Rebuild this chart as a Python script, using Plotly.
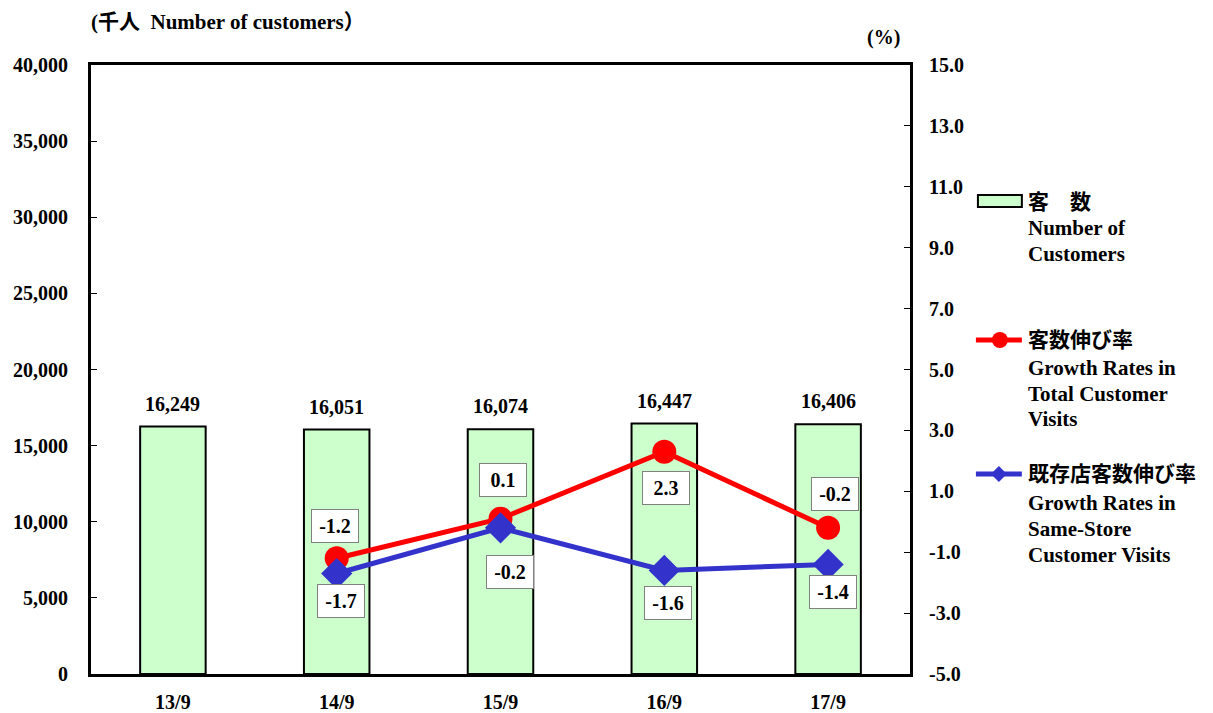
import plotly.graph_objects as go

categories = ["13/9", "14/9", "15/9", "16/9", "17/9"]
customers = [16249, 16051, 16074, 16447, 16406]
growth_total = [None, -1.2, 0.1, 2.3, -0.2]
growth_same = [None, -1.7, -0.2, -1.6, -1.4]
left_ticks = [0, 5000, 10000, 15000, 20000, 25000, 30000, 35000, 40000]
right_ticks = [-5, -3, -1, 1, 3, 5, 7, 9, 11, 13, 15]

FONT = "Liberation Serif, Noto Sans CJK JP, serif"
FS = 20
RED = "#FF0000"
BLUE = "#3333CC"
GREEN = "#CCFFCC"


def bfont(size=FS):
    return dict(family=FONT, size=size, color="black", weight="bold")


fig = go.Figure()
fig.add_trace(go.Bar(x=categories, y=customers, width=0.4,
                     marker=dict(color=GREEN, line=dict(color="black", width=2)),
                     yaxis="y", showlegend=False))
fig.add_trace(go.Scatter(x=categories, y=growth_total, yaxis="y2", mode="lines+markers",
                         line=dict(color=RED, width=5),
                         marker=dict(symbol="circle", size=24, color=RED),
                         showlegend=False))
fig.add_trace(go.Scatter(x=categories, y=growth_same, yaxis="y2", mode="lines+markers",
                         line=dict(color=BLUE, width=5),
                         marker=dict(symbol="diamond", size=24, color=BLUE),
                         showlegend=False))

ann = []
# bar value labels
for c, v in zip(categories, customers):
    ann.append(dict(x=c, y=v, xref="x", yref="y", text=f"{v:,}", showarrow=False,
                    yanchor="bottom", yshift=10, font=bfont()))

# growth labels (offsets in px)
total_off = [None, (-2, 32), (2, 39), (2, -36), (7, 34)]
same_off = [None, (4, -27), (9, -44), (4, -33), (5, -28)]
for offs, series in ((total_off, growth_total), (same_off, growth_same)):
    for c, v, off in zip(categories, series, offs):
        if v is None:
            continue
        ann.append(dict(x=c, y=v, xref="x", yref="y2", text=f"{v:.1f}", showarrow=False,
                        xshift=off[0], yshift=off[1], bgcolor="white", bordercolor="#808080",
                        borderwidth=1, borderpad=5, width=36, height=22, font=bfont()))

# axis titles
ann.append(dict(x=-0.003, y=1.0, xref="paper", yref="paper", text="(千人  Number of customers）",
                showarrow=False, xanchor="left", yanchor="middle", yshift=43,
                font=bfont(21)))
ann.append(dict(x=0.968, y=1.0, xref="paper", yref="paper", text="(%)",
                showarrow=False, xanchor="center", yanchor="middle", yshift=28,
                font=bfont()))


# legend
def px_x(px):
    return (px - 90) / 820.0


def px_y(py):
    return (674 - py) / 609.0


legend_lines = [
    ("客　数", 202), ("Number of", 228), ("Customers", 254),
    ("客数伸び率", 340), ("Growth Rates in", 368), ("Total Customer", 394), ("Visits", 419),
    ("既存店客数伸び率", 474), ("Growth Rates in", 503), ("Same-Store", 529), ("Customer Visits", 555),
]
for t, py in legend_lines:
    ann.append(dict(x=px_x(1026), y=px_y(py), xref="paper", yref="paper", text=t,
                    showarrow=False, xanchor="left", yanchor="middle",
                    font=bfont(21)))

shapes = [
    dict(type="rect", xref="paper", yref="paper", x0=px_x(978), x1=px_x(1022),
         y0=px_y(207), y1=px_y(195), fillcolor=GREEN, line=dict(color="black", width=2)),
    dict(type="line", xref="paper", yref="paper", x0=px_x(976), x1=px_x(1022),
         y0=px_y(340), y1=px_y(340), line=dict(color=RED, width=5)),
    dict(type="circle", xref="paper", yref="paper", x0=px_x(992), x1=px_x(1008),
         y0=px_y(348), y1=px_y(332), fillcolor=RED, line=dict(color=RED, width=0)),
    dict(type="line", xref="paper", yref="paper", x0=px_x(976), x1=px_x(1022),
         y0=px_y(474), y1=px_y(474), line=dict(color=BLUE, width=5)),
    dict(type="path", xref="paper", yref="paper",
         path=f"M {px_x(999)},{px_y(466)} L {px_x(1007)},{px_y(474)} L {px_x(999)},{px_y(482)} L {px_x(991)},{px_y(474)} Z",
         fillcolor=BLUE, line=dict(color=BLUE, width=0)),
]

fig.update_layout(
    width=1213, height=713,
    margin=dict(l=83, r=311, t=57, b=47, autoexpand=False),
    paper_bgcolor="white", plot_bgcolor="white",
    font=bfont(),
    bargap=0.6,
    xaxis=dict(showline=True, linecolor="black", linewidth=3, mirror=True, automargin=False,
               ticks="", showgrid=False, tickfont=bfont(),
               ticklabelstandoff=8),
    yaxis=dict(range=[0, 40000], tickvals=left_ticks, tickformat=",d", showgrid=False,
               automargin=False,
               showline=True, linecolor="black", linewidth=3, ticks="inside", ticklen=6,
               tickcolor="black", tickwidth=1, zeroline=False,
               tickfont=bfont(), ticklabelstandoff=16),
    yaxis2=dict(range=[-5, 15], tickvals=right_ticks,
                ticktext=[f"{v:.1f}" for v in right_ticks], overlaying="y",
                automargin=False,
                side="right", showgrid=False, showline=True, linecolor="black", linewidth=3,
                ticks="inside", ticklen=6, tickcolor="black", tickwidth=1, zeroline=False,
                tickfont=bfont(), ticklabelstandoff=12),
    annotations=ann,
    shapes=shapes,
    showlegend=False,
)

fig.write_html("out.html")
